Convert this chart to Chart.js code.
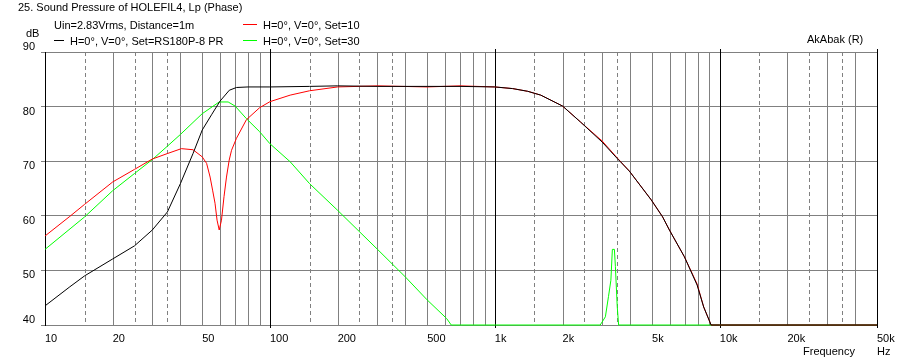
<!DOCTYPE html>
<html>
<head>
<meta charset="utf-8">
<script src="https://cdn.jsdelivr.net/npm/chart.js@4.4.1/dist/chart.umd.min.js"></script>
<style>
  html, body { margin: 0; padding: 0; background: #fff; }
  #wrap { position: relative; width: 899px; height: 363px; font: 11px "Liberation Sans", Arial, sans-serif; color: #000; }
  #wrap canvas { position: absolute; left: 0; top: 0; }
  .t { position: absolute; white-space: nowrap; line-height: 13px; }
  .ln { position: absolute; height: 1px; }
</style>
</head>
<body>
<div id="wrap">
  <canvas id="spl" width="899" height="363"></canvas>
  <div class="t" style="left:18px;top:1px">25. Sound Pressure of HOLEFIL4, Lp (Phase)</div>
  <div class="t" style="left:54px;top:19px">Uin=2.83Vrms, Distance=1m</div>
  <div class="t" style="left:26px;top:27px">dB</div>
  <div class="ln" style="left:54px;top:40px;width:10px;background:#000"></div>
  <div class="t" style="left:70px;top:35px">H=0°, V=0°, Set=RS180P-8 PR</div>
  <div class="ln" style="left:243px;top:24px;width:14px;background:#ff0000"></div>
  <div class="t" style="left:263px;top:19px">H=0°, V=0°, Set=10</div>
  <div class="ln" style="left:243px;top:40px;width:14px;background:#00ff00"></div>
  <div class="t" style="left:263px;top:35px">H=0°, V=0°, Set=30</div>
  <div class="t" style="left:807px;top:33px">AkAbak (R)</div>
  <div class="t" style="left:803px;top:345px">Frequency</div>
  <div class="t" style="left:877px;top:345px">Hz</div>
</div>
<script>
// ---- data ----
const blackFreq = [10, 12.9, 15, 20, 25, 30, 35, 40, 45.5, 50, 55, 60, 66, 71, 80, 100, 150, 200, 300, 500, 700, 1000, 1200, 1400, 1600, 2000, 2400, 3000, 3500, 3960, 4960, 5570, 5970, 6960, 7930, 8480, 9150, 10000, 50000];
const blackDb   = [43.5, 47.0, 49.0, 52.1, 54.5, 57.4, 60.7, 65.9, 71.4, 75.7, 78.5, 81.0, 83.0, 83.5, 83.6, 83.6, 83.7, 83.8, 83.7, 83.7, 83.7, 83.6, 83.3, 82.8, 82.1, 80.1, 77.2, 73.5, 70.5, 68.2, 62.9, 59.8, 57.4, 52.5, 47.3, 43.3, 40, 40, 40];

const redFreq = [10, 12.9, 15, 20, 25, 30, 35, 40.4, 45.5, 50, 52.3, 54.2, 55.6, 57, 58.2, 59.5, 60.9, 62.5, 64.1, 65.9, 67.5, 71, 78.6, 90, 100, 123, 150, 200, 300, 500, 700, 1000, 1200, 1400, 1600, 2000, 2400, 3000, 3500, 3960, 4960, 5570, 5970, 6960, 7930, 8480, 9150, 10000, 50000];
const redDb   = [56.3, 59.9, 62.1, 66.2, 68.5, 70.4, 71.4, 72.3, 72.1, 70.8, 69.6, 67.1, 64.7, 62.3, 59.2, 57.4, 59.2, 63.5, 67.1, 70.2, 72.0, 74.2, 77.6, 79.8, 80.9, 82.1, 82.9, 83.6, 83.8, 83.6, 83.8, 83.6, 83.3, 82.8, 82.1, 80.1, 77.2, 73.7, 70.6, 68.2, 62.9, 59.8, 57.4, 52.5, 47.5, 43.3, 40, 40, 40];

const greenFreq = [10, 15, 20, 25, 30, 35, 40, 50, 59.5, 65.2, 70, 78.6, 90, 100, 123, 150, 200, 300, 400, 500, 610, 640, 2940, 3100, 3200, 3280, 3330, 3400, 3435, 3500, 3550, 50000];
const greenDb   = [53.85, 59.8, 64.6, 67.75, 70.3, 72.75, 74.9, 78.7, 80.85, 80.85, 80.1, 77.8, 75.4, 73.2, 69.9, 65.9, 61.0, 53.9, 48.8, 44.6, 41.2, 40, 40, 41.5, 45.2, 48.2, 53.85, 53.85, 50.7, 43.4, 40, 40];

const freqLabels = [10, 20, 50, 100, 200, 500, 1000, 2000, 5000, 10000, 20000, 50000];
const dbLabelsAbove = [90, 40];   // these sit above their grid line, the rest just below
const decades    = [10, 100, 1000, 10000];
const solidMult  = [2, 3, 4, 5, 6, 7, 8, 9];
const dashMult   = [1.5, 2.5, 3.5];

const pts = (f, v) => f.map((x, i) => ({ x, y: v[i] }));
const fmtHz = v => v >= 1000 ? (v / 1000) + 'k' : String(v);

// vertical frequency grid: grey solid, grey dashed halves, black decades
const freqGrid = {
  id: 'freqGrid',
  beforeDatasetsDraw(chart) {
    const { ctx, chartArea: a, scales: { x } } = chart;
    const vline = (f, color, dash, ext) => {
      const px = Math.round(x.getPixelForValue(f)) + 0.5;
      ctx.strokeStyle = color;
      ctx.setLineDash(dash);
      ctx.beginPath();
      ctx.moveTo(px, a.top - ext);
      ctx.lineTo(px, a.bottom + ext);
      ctx.stroke();
    };
    ctx.save();
    ctx.lineWidth = 1;
    decades.forEach(d => {
      dashMult.forEach(m => vline(d * m, '#808080', [4, 3], 0));
      solidMult.forEach(m => { if (d * m < 50000) vline(d * m, '#808080', [], 0); });
    });
    decades.slice(1).forEach(d => vline(d, '#000', [], 3));
    vline(50000, '#000', [], 3);
    ctx.restore();
  }
};

const line = (data, color) => ({
  data, borderColor: color, borderWidth: 1, pointRadius: 0, tension: 0, fill: false, clip: 3,
});

// first dataset is painted last (on top): black, then red, then green underneath
new Chart(document.getElementById('spl'), {
  type: 'line',
  data: {
    datasets: [
      line(pts(blackFreq, blackDb), '#000000'),
      line(pts(redFreq, redDb), '#ff0000'),
      line(pts(greenFreq, greenDb), '#00ff00'),
    ],
  },
  options: {
    responsive: false,
    animation: false,
    events: [],
    layout: { padding: { left: 0, top: 52, right: 22, bottom: 0 } },
    plugins: { legend: { display: false }, tooltip: { enabled: false } },
    scales: {
      x: {
        type: 'logarithmic', min: 10, max: 50000,
        afterBuildTicks: s => { s.ticks = freqLabels.map(v => ({ value: v })); },
        afterFit: s => { s.height = 38; },
        grid: { drawOnChartArea: false, tickLength: 3, tickColor: 'rgba(0,0,0,0)' },
        border: { color: '#808080', width: 1 },
        ticks: {
          autoSkip: false, maxRotation: 0, align: 'start', padding: 4,
          color: '#000', font: { family: '"Liberation Sans", Arial, sans-serif', size: 11 },
          callback: v => fmtHz(v),
        },
      },
      y: {
        min: 40, max: 90,
        afterFit: s => { s.width = 45; },
        grid: { color: '#808080', tickLength: 4, tickColor: '#808080' },
        border: { color: '#000', width: 1 },
        ticks: {
          stepSize: 10, padding: 6,
          color: '#000', font: { family: '"Liberation Sans", Arial, sans-serif', size: 11, lineHeight: '10px' },
          // two-line label with an empty line nudges the number above or below the grid line
          callback: v => dbLabelsAbove.includes(v) ? [String(v), ''] : ['', String(v)],
        },
      },
    },
  },
  plugins: [freqGrid],
});
</script>
</body>
</html>
